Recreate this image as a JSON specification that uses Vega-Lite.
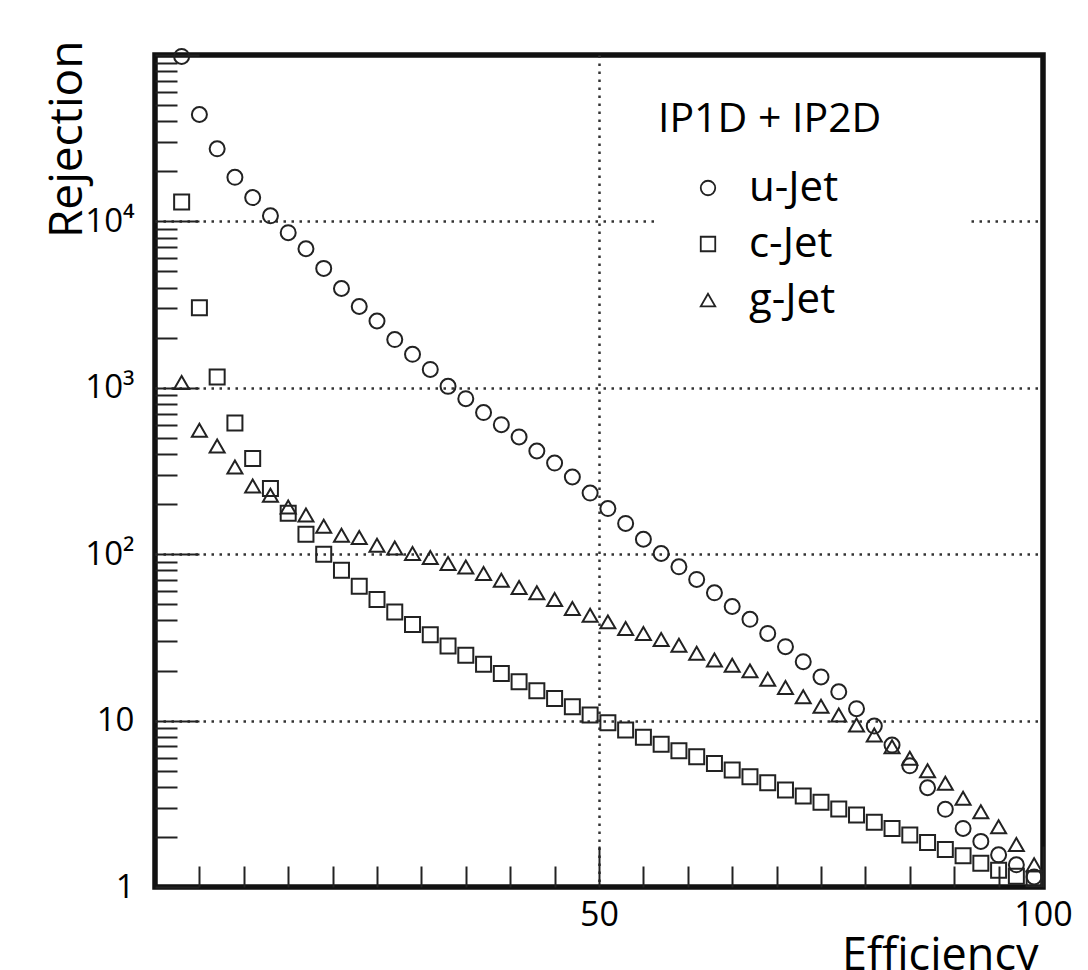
{
  "$schema": "https://vega.github.io/schema/vega-lite/v6.json",
  "width": 888,
  "height": 832,
  "autosize": {"type": "none"},
  "padding": {"left": 155, "top": 55, "right": 45, "bottom": 83},
  "background": "white",
  "config": {"view": {"stroke": "#111", "strokeWidth": 5.5}, "font": "Open Sans"},
  "data": {"values": [
    {"jet":"u-Jet","eff":3,"rej":98000},{"jet":"u-Jet","eff":5,"rej":43900},{"jet":"u-Jet","eff":7,"rej":27300},{"jet":"u-Jet","eff":9,"rej":18400},{"jet":"u-Jet","eff":11,"rej":13900},{"jet":"u-Jet","eff":13,"rej":10800},{"jet":"u-Jet","eff":15,"rej":8550},{"jet":"u-Jet","eff":17,"rej":6850},{"jet":"u-Jet","eff":19,"rej":5220},{"jet":"u-Jet","eff":21,"rej":3950},{"jet":"u-Jet","eff":23,"rej":3080},{"jet":"u-Jet","eff":25,"rej":2520},{"jet":"u-Jet","eff":27,"rej":1950},{"jet":"u-Jet","eff":29,"rej":1590},{"jet":"u-Jet","eff":31,"rej":1290},{"jet":"u-Jet","eff":33,"rej":1020},{"jet":"u-Jet","eff":35,"rej":860},{"jet":"u-Jet","eff":37,"rej":710},{"jet":"u-Jet","eff":39,"rej":600},{"jet":"u-Jet","eff":41,"rej":507},{"jet":"u-Jet","eff":43,"rej":417},{"jet":"u-Jet","eff":45,"rej":353},{"jet":"u-Jet","eff":47,"rej":291},{"jet":"u-Jet","eff":49,"rej":233},{"jet":"u-Jet","eff":51,"rej":188},{"jet":"u-Jet","eff":53,"rej":153},{"jet":"u-Jet","eff":55,"rej":123},{"jet":"u-Jet","eff":57,"rej":101},{"jet":"u-Jet","eff":59,"rej":84},{"jet":"u-Jet","eff":61,"rej":70.5},{"jet":"u-Jet","eff":63,"rej":58.6},{"jet":"u-Jet","eff":65,"rej":48.5},{"jet":"u-Jet","eff":67,"rej":40.6},{"jet":"u-Jet","eff":69,"rej":33.4},{"jet":"u-Jet","eff":71,"rej":27.8},{"jet":"u-Jet","eff":73,"rej":22.6},{"jet":"u-Jet","eff":75,"rej":18.3},{"jet":"u-Jet","eff":77,"rej":14.9},{"jet":"u-Jet","eff":79,"rej":11.8},{"jet":"u-Jet","eff":81,"rej":9.27},{"jet":"u-Jet","eff":83,"rej":7.13},{"jet":"u-Jet","eff":85,"rej":5.35},{"jet":"u-Jet","eff":87,"rej":3.95},{"jet":"u-Jet","eff":89,"rej":2.93},{"jet":"u-Jet","eff":91,"rej":2.25},{"jet":"u-Jet","eff":93,"rej":1.88},{"jet":"u-Jet","eff":95,"rej":1.56},{"jet":"u-Jet","eff":97,"rej":1.36},{"jet":"u-Jet","eff":99,"rej":1.15},
    {"jet":"c-Jet","eff":3,"rej":13060},{"jet":"c-Jet","eff":5,"rej":3030},{"jet":"c-Jet","eff":7,"rej":1160},{"jet":"c-Jet","eff":9,"rej":615},{"jet":"c-Jet","eff":11,"rej":376},{"jet":"c-Jet","eff":13,"rej":248},{"jet":"c-Jet","eff":15,"rej":176},{"jet":"c-Jet","eff":17,"rej":132},{"jet":"c-Jet","eff":19,"rej":100},{"jet":"c-Jet","eff":21,"rej":80.2},{"jet":"c-Jet","eff":23,"rej":64.2},{"jet":"c-Jet","eff":25,"rej":53.4},{"jet":"c-Jet","eff":27,"rej":45},{"jet":"c-Jet","eff":29,"rej":37.8},{"jet":"c-Jet","eff":31,"rej":32.8},{"jet":"c-Jet","eff":33,"rej":28.1},{"jet":"c-Jet","eff":35,"rej":24.7},{"jet":"c-Jet","eff":37,"rej":21.8},{"jet":"c-Jet","eff":39,"rej":19.2},{"jet":"c-Jet","eff":41,"rej":17.1},{"jet":"c-Jet","eff":43,"rej":15.1},{"jet":"c-Jet","eff":45,"rej":13.6},{"jet":"c-Jet","eff":47,"rej":12.1},{"jet":"c-Jet","eff":49,"rej":10.8},{"jet":"c-Jet","eff":51,"rej":9.7},{"jet":"c-Jet","eff":53,"rej":8.77},{"jet":"c-Jet","eff":55,"rej":7.93},{"jet":"c-Jet","eff":57,"rej":7.22},{"jet":"c-Jet","eff":59,"rej":6.59},{"jet":"c-Jet","eff":61,"rej":6.06},{"jet":"c-Jet","eff":63,"rej":5.53},{"jet":"c-Jet","eff":65,"rej":5.04},{"jet":"c-Jet","eff":67,"rej":4.6},{"jet":"c-Jet","eff":69,"rej":4.23},{"jet":"c-Jet","eff":71,"rej":3.83},{"jet":"c-Jet","eff":73,"rej":3.52},{"jet":"c-Jet","eff":75,"rej":3.23},{"jet":"c-Jet","eff":77,"rej":2.94},{"jet":"c-Jet","eff":79,"rej":2.71},{"jet":"c-Jet","eff":81,"rej":2.45},{"jet":"c-Jet","eff":83,"rej":2.25},{"jet":"c-Jet","eff":85,"rej":2.05},{"jet":"c-Jet","eff":87,"rej":1.85},{"jet":"c-Jet","eff":89,"rej":1.68},{"jet":"c-Jet","eff":91,"rej":1.54},{"jet":"c-Jet","eff":93,"rej":1.39},{"jet":"c-Jet","eff":95,"rej":1.26},{"jet":"c-Jet","eff":97,"rej":1.16},{"jet":"c-Jet","eff":99,"rej":1.12},
    {"jet":"g-Jet","eff":3,"rej":1075},{"jet":"g-Jet","eff":5,"rej":555},{"jet":"g-Jet","eff":7,"rej":447},{"jet":"g-Jet","eff":9,"rej":334},{"jet":"g-Jet","eff":11,"rej":257},{"jet":"g-Jet","eff":13,"rej":226},{"jet":"g-Jet","eff":15,"rej":192},{"jet":"g-Jet","eff":17,"rej":172},{"jet":"g-Jet","eff":19,"rej":147},{"jet":"g-Jet","eff":21,"rej":130},{"jet":"g-Jet","eff":23,"rej":126},{"jet":"g-Jet","eff":25,"rej":113},{"jet":"g-Jet","eff":27,"rej":109},{"jet":"g-Jet","eff":29,"rej":101},{"jet":"g-Jet","eff":31,"rej":95.5},{"jet":"g-Jet","eff":33,"rej":87.9},{"jet":"g-Jet","eff":35,"rej":83.9},{"jet":"g-Jet","eff":37,"rej":76.6},{"jet":"g-Jet","eff":39,"rej":69.8},{"jet":"g-Jet","eff":41,"rej":63.1},{"jet":"g-Jet","eff":43,"rej":58.6},{"jet":"g-Jet","eff":45,"rej":53.4},{"jet":"g-Jet","eff":47,"rej":47.2},{"jet":"g-Jet","eff":49,"rej":43},{"jet":"g-Jet","eff":51,"rej":39.2},{"jet":"g-Jet","eff":53,"rej":35.8},{"jet":"g-Jet","eff":55,"rej":33.4},{"jet":"g-Jet","eff":57,"rej":30.7},{"jet":"g-Jet","eff":59,"rej":28.4},{"jet":"g-Jet","eff":61,"rej":25.4},{"jet":"g-Jet","eff":63,"rej":23.1},{"jet":"g-Jet","eff":65,"rej":21.5},{"jet":"g-Jet","eff":67,"rej":19.9},{"jet":"g-Jet","eff":69,"rej":17.7},{"jet":"g-Jet","eff":71,"rej":15.8},{"jet":"g-Jet","eff":73,"rej":13.9},{"jet":"g-Jet","eff":75,"rej":12.2},{"jet":"g-Jet","eff":77,"rej":10.8},{"jet":"g-Jet","eff":79,"rej":9.4},{"jet":"g-Jet","eff":81,"rej":8.19},{"jet":"g-Jet","eff":83,"rej":6.96},{"jet":"g-Jet","eff":85,"rej":5.93},{"jet":"g-Jet","eff":87,"rej":5},{"jet":"g-Jet","eff":89,"rej":4.2},{"jet":"g-Jet","eff":91,"rej":3.41},{"jet":"g-Jet","eff":93,"rej":2.83},{"jet":"g-Jet","eff":95,"rej":2.3},{"jet":"g-Jet","eff":97,"rej":1.8},{"jet":"g-Jet","eff":99,"rej":1.36}
  ]},
  "mark": {"type": "point", "filled": false, "size": 225, "strokeWidth": 2, "color": "#222", "opacity": 1},
  "encoding": {
    "x": {
      "field": "eff", "type": "quantitative",
      "scale": {"domain": [0, 100], "nice": false, "zero": false},
      "axis": {
        "title": "Efficiency",
        "values": [5,10,15,20,25,30,35,40,45,50,55,60,65,70,75,80,85,90,95,100],
        "labelExpr": "datum.value == 50 || datum.value == 100 ? datum.label : ''",
        "labelOverlap": false, "labelFlush": false, "labelBound": false,
        "labelFontSize": 34, "labelColor": "#000", "labelPadding": 52,
        "tickSize": {"condition": {"test": "datum.value == 50 || datum.value == 100", "value": -41}, "value": -21},
        "tickColor": "#222", "tickWidth": 2,
        "domain": false,
        "grid": true, "gridColor": "#333", "gridWidth": 2.5, "gridDash": [2.5, 5.5],
        "gridOpacity": {"condition": {"test": "datum.value == 50", "value": 1}, "value": 0},
        "titleFontSize": 45, "titleFontWeight": "normal", "titleColor": "#000",
        "titleAlign": "right", "titleBaseline": "alphabetic", "titleAngle": 0,
        "titleX": 883, "titleY": 82
      }
    },
    "y": {
      "field": "rej", "type": "quantitative",
      "scale": {"type": "log", "domain": [1, 100000], "nice": false},
      "axis": {
        "title": "Rejection",
        "values": [1,2,3,4,5,6,7,8,9,10,20,30,40,50,60,70,80,90,100,200,300,400,500,600,700,800,900,1000,2000,3000,4000,5000,6000,7000,8000,9000,10000,20000,30000,40000,50000,60000,70000,80000,90000,100000],
        "labelExpr": "datum.value == 1 ? '1' : datum.value == 10 ? '10' : datum.value == 100 ? '10²' : datum.value == 1000 ? '10³' : datum.value == 10000 ? '10⁴' : ''",
        "labelOverlap": false, "labelFlush": false, "labelBound": false,
        "labelFontSize": 33, "labelColor": "#000", "labelPadding": 65,
        "labelAlign": "right", "labelBaseline": "middle",
        "tickSize": {"condition": {"test": "datum.value == 1 || datum.value == 10 || datum.value == 100 || datum.value == 1000 || datum.value == 10000 || datum.value == 100000", "value": -44}, "value": -22},
        "tickColor": "#222", "tickWidth": 2,
        "domain": false,
        "grid": true, "gridColor": "#333", "gridWidth": 2.5, "gridDash": [2.5, 5.5],
        "gridOpacity": {"condition": {"test": "datum.value == 10 || datum.value == 100 || datum.value == 1000 || datum.value == 10000", "value": 1}, "value": 0},
        "titleFontSize": 46, "titleFontWeight": "normal", "titleColor": "#000",
        "titleAngle": -90, "titleAlign": "right", "titleBaseline": "alphabetic",
        "titleX": -74, "titleY": -15
      }
    },
    "shape": {
      "field": "jet", "type": "nominal",
      "scale": {"domain": ["u-Jet", "c-Jet", "g-Jet"], "range": ["circle", "square", "triangle-up"]},
      "legend": {
        "title": "IP1D + IP2D", "orient": "none", "legendX": 503, "legendY": 45,
        "fillColor": "white", "padding": 0,
        "labelExpr": "datum.label + '\u00a0\u00a0\u00a0\u00a0\u00a0\u00a0\u00a0\u00a0\u00a0\u00a0\u00a0\u00a0\u200b'",
        "titleFontSize": 41, "titleFontWeight": "normal", "titleColor": "#000", "titlePadding": 26, "titleLimit": 500,
        "titleAnchor": "start", "titleOffset": 0,
        "labelFontSize": 42, "labelColor": "#000", "labelLimit": 600,
        "symbolSize": 210, "symbolStrokeWidth": 1.8, "symbolStrokeColor": "#222", "symbolFillColor": "transparent",
        "symbolOffset": 29, "labelOffset": 20, "rowPadding": 14
      }
    }
  }
}
